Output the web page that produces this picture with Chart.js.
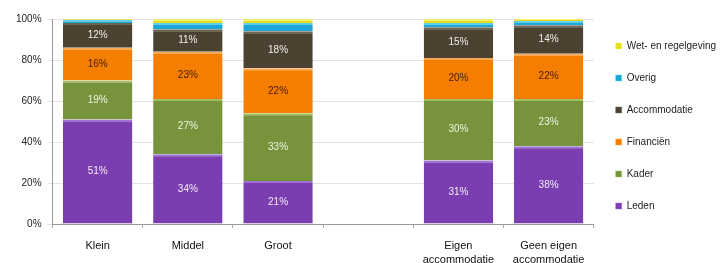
<!DOCTYPE html>
<html>
<head>
<meta charset="utf-8">
<script src="https://cdn.jsdelivr.net/npm/chart.js@4.4.1/dist/chart.umd.min.js"></script>
<style>
  html, body { margin: 0; padding: 0; background: #fff; overflow: hidden; }
  #wrap { width: 726px; height: 278px; }
</style>
</head>
<body>
<div id="wrap"><canvas id="chart_bronnen"></canvas></div>
<script>
const labels = ['Klein', 'Middel', 'Groot', '', ['Eigen', 'accommodatie'], ['Geen eigen', 'accommodatie']];
const leden = [51, 34, 21, null, 31, 38];
const kader = [19, 27, 33, null, 30, 23];
const financien = [16, 23, 22, null, 20, 22];
const accommodatie = [12, 11, 18, null, 15, 14];
const overig = [1.5, 3, 4, null, 2, 2];
const wetgeving = [0.5, 2, 2, null, 2, 1];
const yTicks = [0, 20, 40, 60, 80, 100];

// labels drawn inside the four big segments
const valueLabels = {
    id: 'valueLabels',
    afterDatasetsDraw(chart) {
        const ctx = chart.ctx;
        ctx.save();
        ctx.font = '10px "Liberation Sans", sans-serif';
        ctx.textAlign = 'center';
        ctx.textBaseline = 'middle';
        chart.data.datasets.forEach((ds, i) => {
            if (!ds.showValue) return;
            chart.getDatasetMeta(i).data.forEach((bar, j) => {
                const v = ds.data[j];
                if (v == null) return;
                const p = bar.getProps(['x', 'y', 'base'], true);
                ctx.fillStyle = ds.valueColor;
                ctx.fillText(v + '%', p.x, (p.y + p.base) / 2);
            });
        });
        ctx.restore();
    }
};

function serie(label, data, color, top, showValue, valueColor) {
    return {
        label: label,
        data: data,
        backgroundColor: color,
        borderColor: top,
        borderWidth: { top: 2, left: 0, right: 0, bottom: 0 },
        borderSkipped: false,
        showValue: showValue,
        valueColor: valueColor
    };
}

const ctxBronnen = document.getElementById('chart_bronnen');
const bronnenChart = new Chart(ctxBronnen, {
    type: 'bar',
    data: {
        labels: labels,
        datasets: [
            serie('Leden', leden, '#7a3eb1', '#a070d8', true, '#f2ecf8'),
            serie('Kader', kader, '#77933c', '#a2c062', true, '#eef3e2'),
            serie('Financiën', financien, '#f57d00', '#fba650', true, '#4a2000'),
            serie('Accommodatie', accommodatie, '#4b4232', '#6e6450', true, '#f0eee8'),
            serie('Overig', overig, '#1aa6d6', '#60cdee', false),
            serie('Wet- en regelgeving', wetgeving, '#e6df1e', '#f4ef70', false)
        ]
    },
    options: {
        responsive: true,
        maintainAspectRatio: false,
        animation: false,
        layout: { padding: { top: 19, left: 10, right: 0, bottom: 0 } },
        datasets: {
            bar: { categoryPercentage: 1, barPercentage: 0.77 }
        },
        plugins: {
            tooltip: { enabled: false },
            legend: {
                position: 'right',
                align: 'start',
                reverse: true,
                labels: {
                    boxWidth: 6,
                    boxHeight: 6,
                    padding: 22,
                    color: '#222',
                    font: { size: 10, family: '"Liberation Sans", sans-serif' }
                }
            }
        },
        scales: {
            x: {
                stacked: true,
                grid: { display: true, drawOnChartArea: false, offset: true, tickLength: 4, color: '#aaa' },
                border: { color: '#999' },
                ticks: {
                    color: '#111',
                    padding: 11,
                    font: { size: 11, lineHeight: 1.27, family: '"Liberation Sans", sans-serif' }
                }
            },
            y: {
                stacked: true,
                min: 0,
                max: 100,
                afterBuildTicks(axis) {
                    axis.ticks = yTicks.map(v => ({ value: v }));
                },
                grid: { color: '#e2e2e2', tickLength: 5, drawTicks: true },
                border: { color: '#999' },
                ticks: {
                    color: '#222',
                    padding: 6,
                    font: { size: 10, family: '"Liberation Sans", sans-serif' },
                    callback: v => v + '%'
                }
            }
        }
    },
    plugins: [valueLabels]
});
</script>
</body>
</html>
